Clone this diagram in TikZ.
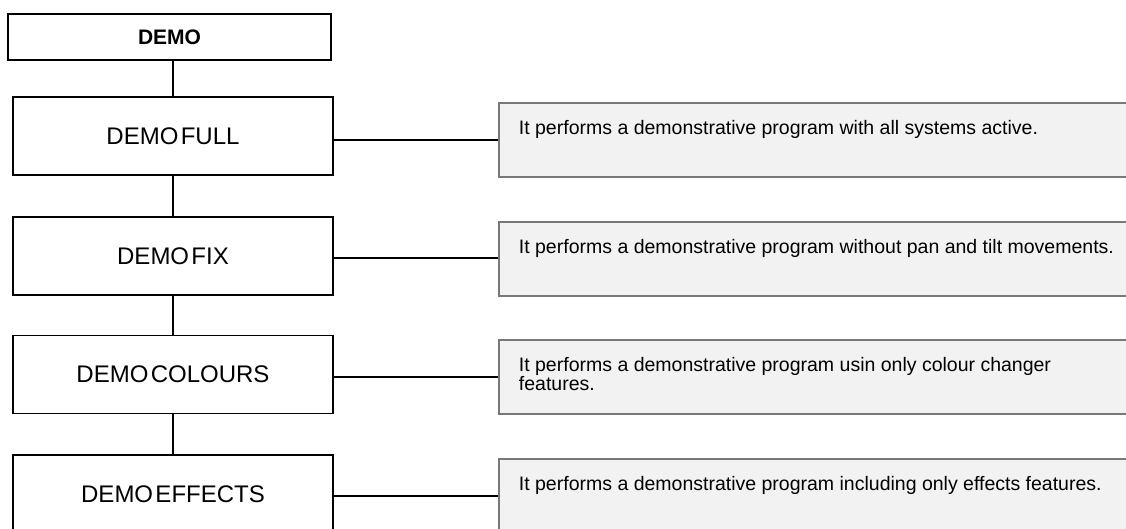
\documentclass[tikz,border=0pt]{standalone}
\usepackage{fontspec}
\setmainfont{Liberation Sans}
\newfontfamily\modefont[WordSpace=0.35]{Liberation Sans}
\definecolor{descfill}{HTML}{F2F2F2}
\definecolor{descline}{HTML}{787878}
\begin{document}
\begin{tikzpicture}[x=1pt, y=-1pt,
  mode/.style={draw, line width=1.8pt, minimum width=320pt, minimum height=78pt, inner sep=0pt, font=\modefont\fontsize{24}{28}\selectfont},
  desc/.style={draw=descline, fill=descfill, line width=1.8pt, anchor=north west, inner xsep=20pt, inner ysep=17pt, font=\fontsize{19.5}{16}\selectfont},
  link/.style={line width=1.8pt}]
  \useasboundingbox (0,0) rectangle (1126,529);
  \node[mode, minimum width=323pt, minimum height=46pt, font=\fontsize{21}{24}\selectfont\bfseries] (demo) at (169.5,37) {DEMO};
  \node[mode] (full) at (173,136) {DEMO FULL};
  \node[mode] (fix) at (173,256) {DEMO FIX};
  \node[mode] (colours) at (173,374.5) {DEMO COLOURS};
  \node[mode] (effects) at (173,494) {DEMO EFFECTS};
  \node[desc] (dfull) at (498,102) {\parbox[t][40pt][t]{620pt}{It performs a demonstrative program with all systems active.}};
  \node[desc] (dfix) at (498,221) {\parbox[t][40pt][t]{620pt}{It performs a demonstrative program without pan and tilt movements.}};
  \node[desc] (dcolours) at (498,339) {\parbox[t][40pt][t]{620pt}{It performs a demonstrative program usin only colour changer\\features.}};
  \node[desc] (deffects) at (498,458) {\parbox[t][40pt][t]{620pt}{It performs a demonstrative program including only effects features.}};
  \draw[link] (full.north) -- (full.north |- demo.south);
  \draw[link] (full) -- (fix);
  \draw[link] (fix) -- (colours);
  \draw[link] (colours) -- (effects);
  \draw[link] (full.east) ++(0,4) -- (dfull.west |- 0,140);
  \draw[link] (fix.east) ++(0,2) -- (dfix.west |- 0,258);
  \draw[link] (colours.east) ++(0,2.5) -- (dcolours.west |- 0,377);
  \draw[link] (effects.east) ++(0,2) -- (deffects.west |- 0,496);
\end{tikzpicture}
\end{document}
